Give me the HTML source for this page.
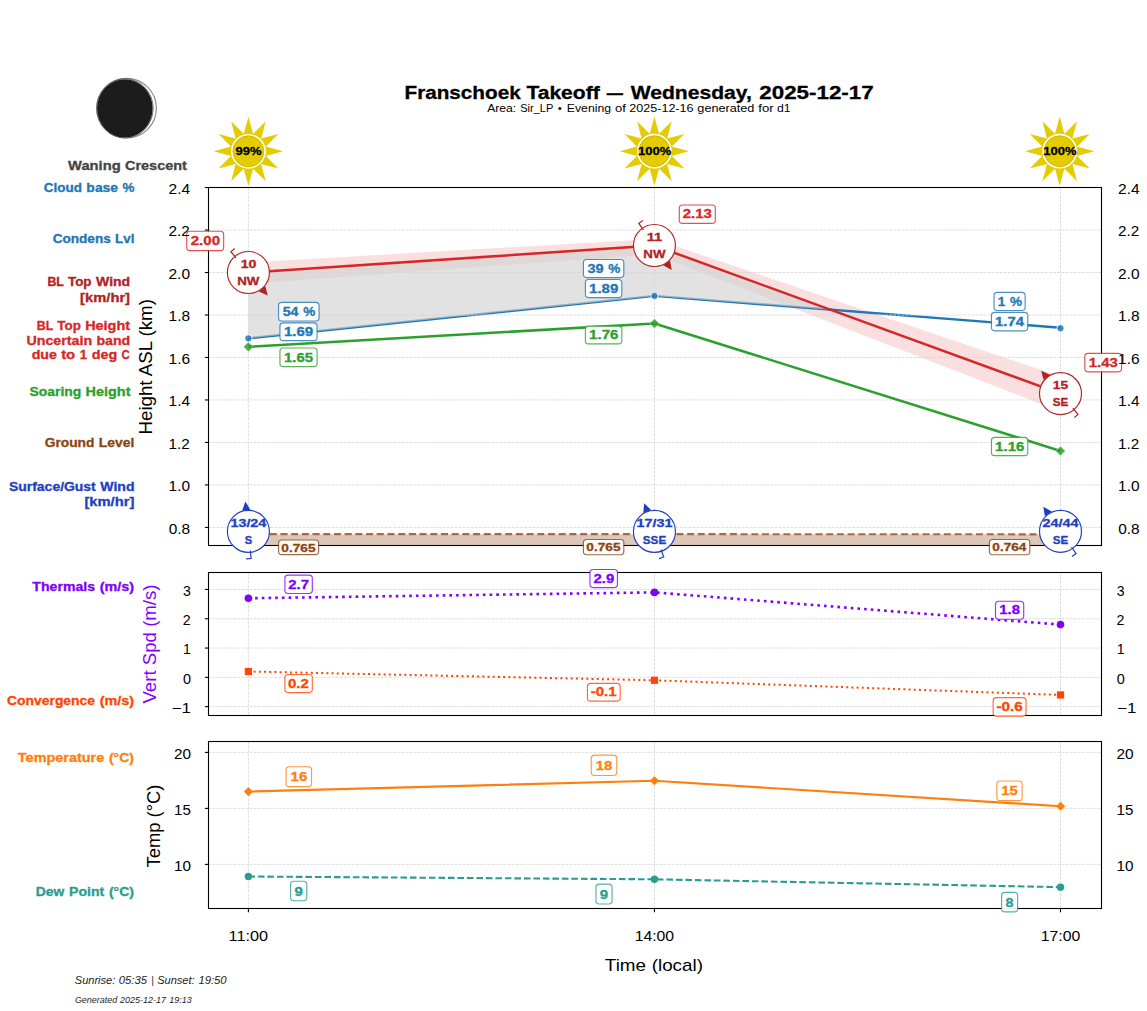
<!DOCTYPE html><html><head><meta charset="utf-8"><style>html,body{margin:0;padding:0;background:#fff;overflow:hidden}svg{display:block}text{font-family:"Liberation Sans",sans-serif}</style></head><body>
<svg width="1147" height="1011" viewBox="0 0 1147 1011">
<rect width="1147" height="1011" fill="#fff"/>
<text x="404.51" y="98.70" font-size="18.06" fill="#000" font-weight="bold" font-style="normal" text-anchor="start" textLength="116.17" lengthAdjust="spacingAndGlyphs" stroke="#000" stroke-width="0.3">Franschoek</text>
<text x="526.42" y="98.70" font-size="18.06" fill="#000" font-weight="bold" font-style="normal" text-anchor="start" textLength="73.29" lengthAdjust="spacingAndGlyphs" stroke="#000" stroke-width="0.3">Takeoff</text>
<text x="606.82" y="98.70" font-size="18.06" fill="#000" font-weight="bold" font-style="normal" text-anchor="start" textLength="16.25" lengthAdjust="spacingAndGlyphs" stroke="#000" stroke-width="0.3">—</text>
<text x="630.71" y="98.70" font-size="18.06" fill="#000" font-weight="bold" font-style="normal" text-anchor="start" textLength="121.15" lengthAdjust="spacingAndGlyphs" stroke="#000" stroke-width="0.3">Wednesday,</text>
<text x="759.33" y="98.70" font-size="18.06" fill="#000" font-weight="bold" font-style="normal" text-anchor="start" textLength="114.36" lengthAdjust="spacingAndGlyphs" stroke="#000" stroke-width="0.3">2025-12-17</text>
<text x="487.17" y="111.80" font-size="11.33" fill="#000" font-weight="normal" font-style="normal" text-anchor="start" textLength="29.10" lengthAdjust="spacingAndGlyphs">Area:</text>
<text x="520.18" y="111.80" font-size="11.33" fill="#000" font-weight="normal" font-style="normal" text-anchor="start" textLength="33.12" lengthAdjust="spacingAndGlyphs">Sir_LP</text>
<text x="557.84" y="111.80" font-size="11.33" fill="#000" font-weight="normal" font-style="normal" text-anchor="start" textLength="4.10" lengthAdjust="spacingAndGlyphs">•</text>
<text x="566.80" y="111.80" font-size="11.33" fill="#000" font-weight="normal" font-style="normal" text-anchor="start" textLength="44.31" lengthAdjust="spacingAndGlyphs">Evening</text>
<text x="615.00" y="111.80" font-size="11.33" fill="#000" font-weight="normal" font-style="normal" text-anchor="start" textLength="10.84" lengthAdjust="spacingAndGlyphs">of</text>
<text x="629.29" y="111.80" font-size="11.33" fill="#000" font-weight="normal" font-style="normal" text-anchor="start" textLength="64.24" lengthAdjust="spacingAndGlyphs">2025-12-16</text>
<text x="697.35" y="111.80" font-size="11.33" fill="#000" font-weight="normal" font-style="normal" text-anchor="start" textLength="57.03" lengthAdjust="spacingAndGlyphs">generated</text>
<text x="758.25" y="111.80" font-size="11.33" fill="#000" font-weight="normal" font-style="normal" text-anchor="start" textLength="15.40" lengthAdjust="spacingAndGlyphs">for</text>
<text x="777.09" y="111.80" font-size="11.33" fill="#000" font-weight="normal" font-style="normal" text-anchor="start" textLength="13.56" lengthAdjust="spacingAndGlyphs">d1</text>
<circle cx="126.6" cy="108.2" r="29.8" fill="#fff" stroke="#888" stroke-width="1.1"/>
<ellipse cx="124.9" cy="108.4" rx="27.8" ry="29.2" fill="#1c1c1c"/>
<ellipse cx="124.9" cy="108.4" rx="28.3" ry="29.6" fill="none" stroke="#555" stroke-width="0.8"/>
<text x="68.12" y="169.80" font-size="12.50" fill="#444" font-weight="bold" font-style="normal" text-anchor="start" textLength="52.50" lengthAdjust="spacingAndGlyphs" stroke="#444" stroke-width="0.3">Waning</text>
<text x="124.95" y="169.80" font-size="12.50" fill="#444" font-weight="bold" font-style="normal" text-anchor="start" textLength="61.97" lengthAdjust="spacingAndGlyphs" stroke="#444" stroke-width="0.3">Crescent</text>
<polygon points="248.40,116.70 253.60,135.80 243.20,135.80" fill="#e4cc00" stroke="none" stroke-width="0"/>
<polygon points="265.70,121.34 260.65,140.48 251.65,135.28" fill="#e4cc00" stroke="none" stroke-width="0"/>
<polygon points="278.36,134.00 264.42,148.05 259.22,139.05" fill="#e4cc00" stroke="none" stroke-width="0"/>
<polygon points="283.00,151.30 263.90,156.50 263.90,146.10" fill="#e4cc00" stroke="none" stroke-width="0"/>
<polygon points="278.36,168.60 259.22,163.55 264.42,154.55" fill="#e4cc00" stroke="none" stroke-width="0"/>
<polygon points="265.70,181.26 251.65,167.32 260.65,162.12" fill="#e4cc00" stroke="none" stroke-width="0"/>
<polygon points="248.40,185.90 243.20,166.80 253.60,166.80" fill="#e4cc00" stroke="none" stroke-width="0"/>
<polygon points="231.10,181.26 236.15,162.12 245.15,167.32" fill="#e4cc00" stroke="none" stroke-width="0"/>
<polygon points="218.44,168.60 232.38,154.55 237.58,163.55" fill="#e4cc00" stroke="none" stroke-width="0"/>
<polygon points="213.80,151.30 232.90,146.10 232.90,156.50" fill="#e4cc00" stroke="none" stroke-width="0"/>
<polygon points="218.44,134.00 237.58,139.05 232.38,148.05" fill="#e4cc00" stroke="none" stroke-width="0"/>
<polygon points="231.10,121.34 245.15,135.28 236.15,140.48" fill="#e4cc00" stroke="none" stroke-width="0"/>
<circle cx="248.4" cy="151.3" r="16.6" fill="#e4cc00" stroke="#fff" stroke-width="1.6"/>
<circle cx="248.4" cy="151.3" r="15.3" fill="none" stroke="#d2b800" stroke-width="0.9"/>
<text x="235.51" y="155.40" font-size="11.11" fill="#000" font-weight="bold" font-style="normal" text-anchor="start" textLength="25.97" lengthAdjust="spacingAndGlyphs" stroke="#000" stroke-width="0.3">99%</text>
<polygon points="654.40,116.60 659.60,135.70 649.20,135.70" fill="#e4cc00" stroke="none" stroke-width="0"/>
<polygon points="671.70,121.24 666.65,140.38 657.65,135.18" fill="#e4cc00" stroke="none" stroke-width="0"/>
<polygon points="684.36,133.90 670.42,147.95 665.22,138.95" fill="#e4cc00" stroke="none" stroke-width="0"/>
<polygon points="689.00,151.20 669.90,156.40 669.90,146.00" fill="#e4cc00" stroke="none" stroke-width="0"/>
<polygon points="684.36,168.50 665.22,163.45 670.42,154.45" fill="#e4cc00" stroke="none" stroke-width="0"/>
<polygon points="671.70,181.16 657.65,167.22 666.65,162.02" fill="#e4cc00" stroke="none" stroke-width="0"/>
<polygon points="654.40,185.80 649.20,166.70 659.60,166.70" fill="#e4cc00" stroke="none" stroke-width="0"/>
<polygon points="637.10,181.16 642.15,162.02 651.15,167.22" fill="#e4cc00" stroke="none" stroke-width="0"/>
<polygon points="624.44,168.50 638.38,154.45 643.58,163.45" fill="#e4cc00" stroke="none" stroke-width="0"/>
<polygon points="619.80,151.20 638.90,146.00 638.90,156.40" fill="#e4cc00" stroke="none" stroke-width="0"/>
<polygon points="624.44,133.90 643.58,138.95 638.38,147.95" fill="#e4cc00" stroke="none" stroke-width="0"/>
<polygon points="637.10,121.24 651.15,135.18 642.15,140.38" fill="#e4cc00" stroke="none" stroke-width="0"/>
<circle cx="654.4" cy="151.2" r="16.6" fill="#e4cc00" stroke="#fff" stroke-width="1.6"/>
<circle cx="654.4" cy="151.2" r="15.3" fill="none" stroke="#d2b800" stroke-width="0.9"/>
<text x="637.98" y="155.30" font-size="11.11" fill="#000" font-weight="bold" font-style="normal" text-anchor="start" textLength="33.23" lengthAdjust="spacingAndGlyphs" stroke="#000" stroke-width="0.3">100%</text>
<polygon points="1059.70,116.60 1064.90,135.70 1054.50,135.70" fill="#e4cc00" stroke="none" stroke-width="0"/>
<polygon points="1077.00,121.24 1071.95,140.38 1062.95,135.18" fill="#e4cc00" stroke="none" stroke-width="0"/>
<polygon points="1089.66,133.90 1075.72,147.95 1070.52,138.95" fill="#e4cc00" stroke="none" stroke-width="0"/>
<polygon points="1094.30,151.20 1075.20,156.40 1075.20,146.00" fill="#e4cc00" stroke="none" stroke-width="0"/>
<polygon points="1089.66,168.50 1070.52,163.45 1075.72,154.45" fill="#e4cc00" stroke="none" stroke-width="0"/>
<polygon points="1077.00,181.16 1062.95,167.22 1071.95,162.02" fill="#e4cc00" stroke="none" stroke-width="0"/>
<polygon points="1059.70,185.80 1054.50,166.70 1064.90,166.70" fill="#e4cc00" stroke="none" stroke-width="0"/>
<polygon points="1042.40,181.16 1047.45,162.02 1056.45,167.22" fill="#e4cc00" stroke="none" stroke-width="0"/>
<polygon points="1029.74,168.50 1043.68,154.45 1048.88,163.45" fill="#e4cc00" stroke="none" stroke-width="0"/>
<polygon points="1025.10,151.20 1044.20,146.00 1044.20,156.40" fill="#e4cc00" stroke="none" stroke-width="0"/>
<polygon points="1029.74,133.90 1048.88,138.95 1043.68,147.95" fill="#e4cc00" stroke="none" stroke-width="0"/>
<polygon points="1042.40,121.24 1056.45,135.18 1047.45,140.38" fill="#e4cc00" stroke="none" stroke-width="0"/>
<circle cx="1059.7" cy="151.2" r="16.6" fill="#e4cc00" stroke="#fff" stroke-width="1.6"/>
<circle cx="1059.7" cy="151.2" r="15.3" fill="none" stroke="#d2b800" stroke-width="0.9"/>
<text x="1043.28" y="155.30" font-size="11.11" fill="#000" font-weight="bold" font-style="normal" text-anchor="start" textLength="33.23" lengthAdjust="spacingAndGlyphs" stroke="#000" stroke-width="0.3">100%</text>
<text x="43.85" y="192.20" font-size="12.00" fill="#1f77b4" font-weight="bold" font-style="normal" text-anchor="start" textLength="38.23" lengthAdjust="spacingAndGlyphs" stroke="#1f77b4" stroke-width="0.3">Cloud</text>
<text x="86.38" y="192.20" font-size="12.00" fill="#1f77b4" font-weight="bold" font-style="normal" text-anchor="start" textLength="31.73" lengthAdjust="spacingAndGlyphs" stroke="#1f77b4" stroke-width="0.3">base</text>
<text x="122.57" y="192.20" font-size="12.00" fill="#1f77b4" font-weight="bold" font-style="normal" text-anchor="start" textLength="11.93" lengthAdjust="spacingAndGlyphs" stroke="#1f77b4" stroke-width="0.3">%</text>
<text x="52.73" y="242.60" font-size="12.00" fill="#1f77b4" font-weight="bold" font-style="normal" text-anchor="start" textLength="58.00" lengthAdjust="spacingAndGlyphs" stroke="#1f77b4" stroke-width="0.3">Condens</text>
<text x="115.13" y="242.60" font-size="12.00" fill="#1f77b4" font-weight="bold" font-style="normal" text-anchor="start" textLength="19.32" lengthAdjust="spacingAndGlyphs" stroke="#1f77b4" stroke-width="0.3">Lvl</text>
<text x="47.42" y="286.20" font-size="12.00" fill="#b22222" font-weight="bold" font-style="normal" text-anchor="start" textLength="16.51" lengthAdjust="spacingAndGlyphs" stroke="#b22222" stroke-width="0.3">BL</text>
<text x="67.98" y="286.20" font-size="12.00" fill="#b22222" font-weight="bold" font-style="normal" text-anchor="start" textLength="23.57" lengthAdjust="spacingAndGlyphs" stroke="#b22222" stroke-width="0.3">Top</text>
<text x="96.02" y="286.20" font-size="12.00" fill="#b22222" font-weight="bold" font-style="normal" text-anchor="start" textLength="34.15" lengthAdjust="spacingAndGlyphs" stroke="#b22222" stroke-width="0.3">Wind</text>
<text x="80.11" y="302.00" font-size="12.00" fill="#b22222" font-weight="bold" font-style="normal" text-anchor="start" textLength="49.91" lengthAdjust="spacingAndGlyphs" stroke="#b22222" stroke-width="0.3">[km/hr]</text>
<text x="36.74" y="329.70" font-size="12.00" fill="#d62728" font-weight="bold" font-style="normal" text-anchor="start" textLength="16.51" lengthAdjust="spacingAndGlyphs" stroke="#d62728" stroke-width="0.3">BL</text>
<text x="57.30" y="329.70" font-size="12.00" fill="#d62728" font-weight="bold" font-style="normal" text-anchor="start" textLength="23.57" lengthAdjust="spacingAndGlyphs" stroke="#d62728" stroke-width="0.3">Top</text>
<text x="85.18" y="329.70" font-size="12.00" fill="#d62728" font-weight="bold" font-style="normal" text-anchor="start" textLength="44.88" lengthAdjust="spacingAndGlyphs" stroke="#d62728" stroke-width="0.3">Height</text>
<text x="26.48" y="344.50" font-size="12.00" fill="#d62728" font-weight="bold" font-style="normal" text-anchor="start" textLength="65.70" lengthAdjust="spacingAndGlyphs" stroke="#d62728" stroke-width="0.3">Uncertain</text>
<text x="96.42" y="344.50" font-size="12.00" fill="#d62728" font-weight="bold" font-style="normal" text-anchor="start" textLength="33.74" lengthAdjust="spacingAndGlyphs" stroke="#d62728" stroke-width="0.3">band</text>
<text x="31.67" y="359.40" font-size="12.00" fill="#d62728" font-weight="bold" font-style="normal" text-anchor="start" textLength="25.28" lengthAdjust="spacingAndGlyphs" stroke="#d62728" stroke-width="0.3">due</text>
<text x="61.18" y="359.40" font-size="12.00" fill="#d62728" font-weight="bold" font-style="normal" text-anchor="start" textLength="14.03" lengthAdjust="spacingAndGlyphs" stroke="#d62728" stroke-width="0.3">to</text>
<text x="79.89" y="359.40" font-size="12.00" fill="#d62728" font-weight="bold" font-style="normal" text-anchor="start" textLength="7.38" lengthAdjust="spacingAndGlyphs" stroke="#d62728" stroke-width="0.3">1</text>
<text x="91.80" y="359.40" font-size="12.00" fill="#d62728" font-weight="bold" font-style="normal" text-anchor="start" textLength="25.42" lengthAdjust="spacingAndGlyphs" stroke="#d62728" stroke-width="0.3">deg</text>
<text x="121.48" y="359.40" font-size="12.00" fill="#d62728" font-weight="bold" font-style="normal" text-anchor="start" textLength="8.27" lengthAdjust="spacingAndGlyphs" stroke="#d62728" stroke-width="0.3">C</text>
<text x="29.60" y="396.20" font-size="12.00" fill="#2ca02c" font-weight="bold" font-style="normal" text-anchor="start" textLength="51.63" lengthAdjust="spacingAndGlyphs" stroke="#2ca02c" stroke-width="0.3">Soaring</text>
<text x="85.58" y="396.20" font-size="12.00" fill="#2ca02c" font-weight="bold" font-style="normal" text-anchor="start" textLength="44.88" lengthAdjust="spacingAndGlyphs" stroke="#2ca02c" stroke-width="0.3">Height</text>
<text x="44.76" y="446.60" font-size="12.00" fill="#8b4513" font-weight="bold" font-style="normal" text-anchor="start" textLength="49.63" lengthAdjust="spacingAndGlyphs" stroke="#8b4513" stroke-width="0.3">Ground</text>
<text x="98.82" y="446.60" font-size="12.00" fill="#8b4513" font-weight="bold" font-style="normal" text-anchor="start" textLength="35.62" lengthAdjust="spacingAndGlyphs" stroke="#8b4513" stroke-width="0.3">Level</text>
<text x="9.00" y="491.10" font-size="12.00" fill="#1f3fbf" font-weight="bold" font-style="normal" text-anchor="start" textLength="86.76" lengthAdjust="spacingAndGlyphs" stroke="#1f3fbf" stroke-width="0.3">Surface/Gust</text>
<text x="100.32" y="491.10" font-size="12.00" fill="#1f3fbf" font-weight="bold" font-style="normal" text-anchor="start" textLength="34.15" lengthAdjust="spacingAndGlyphs" stroke="#1f3fbf" stroke-width="0.3">Wind</text>
<text x="84.41" y="505.90" font-size="12.00" fill="#1f3fbf" font-weight="bold" font-style="normal" text-anchor="start" textLength="49.91" lengthAdjust="spacingAndGlyphs" stroke="#1f3fbf" stroke-width="0.3">[km/hr]</text>
<text x="32.34" y="591.10" font-size="12.00" fill="#8000ff" font-weight="bold" font-style="normal" text-anchor="start" textLength="62.75" lengthAdjust="spacingAndGlyphs" stroke="#8000ff" stroke-width="0.3">Thermals</text>
<text x="99.67" y="591.10" font-size="12.00" fill="#8000ff" font-weight="bold" font-style="normal" text-anchor="start" textLength="34.35" lengthAdjust="spacingAndGlyphs" stroke="#8000ff" stroke-width="0.3">(m/s)</text>
<text x="7.11" y="705.00" font-size="12.00" fill="#ff4500" font-weight="bold" font-style="normal" text-anchor="start" textLength="87.86" lengthAdjust="spacingAndGlyphs" stroke="#ff4500" stroke-width="0.3">Convergence</text>
<text x="99.67" y="705.00" font-size="12.00" fill="#ff4500" font-weight="bold" font-style="normal" text-anchor="start" textLength="34.35" lengthAdjust="spacingAndGlyphs" stroke="#ff4500" stroke-width="0.3">(m/s)</text>
<text x="17.89" y="762.00" font-size="12.00" fill="#ff7f0e" font-weight="bold" font-style="normal" text-anchor="start" textLength="86.37" lengthAdjust="spacingAndGlyphs" stroke="#ff7f0e" stroke-width="0.3">Temperature</text>
<text x="108.91" y="762.00" font-size="12.00" fill="#ff7f0e" font-weight="bold" font-style="normal" text-anchor="start" textLength="25.07" lengthAdjust="spacingAndGlyphs" stroke="#ff7f0e" stroke-width="0.3">(°C)</text>
<text x="35.73" y="896.00" font-size="12.00" fill="#2a9d8f" font-weight="bold" font-style="normal" text-anchor="start" textLength="28.57" lengthAdjust="spacingAndGlyphs" stroke="#2a9d8f" stroke-width="0.3">Dew</text>
<text x="69.08" y="896.00" font-size="12.00" fill="#2a9d8f" font-weight="bold" font-style="normal" text-anchor="start" textLength="35.19" lengthAdjust="spacingAndGlyphs" stroke="#2a9d8f" stroke-width="0.3">Point</text>
<text x="108.91" y="896.00" font-size="12.00" fill="#2a9d8f" font-weight="bold" font-style="normal" text-anchor="start" textLength="25.07" lengthAdjust="spacingAndGlyphs" stroke="#2a9d8f" stroke-width="0.3">(°C)</text>
<text transform="translate(146.30,366.80) rotate(-90)" x="0" y="6.00" font-size="17.67" fill="#000" font-weight="normal" text-anchor="middle" textLength="135.45" lengthAdjust="spacingAndGlyphs">Height ASL (km)</text>
<text transform="translate(149.60,644.00) rotate(-90)" x="0" y="6.00" font-size="17.67" fill="#8000ff" font-weight="normal" text-anchor="middle" textLength="119.15" lengthAdjust="spacingAndGlyphs">Vert Spd (m/s)</text>
<text transform="translate(153.80,826.00) rotate(-90)" x="0" y="6.00" font-size="17.67" fill="#000" font-weight="normal" text-anchor="middle" textLength="82.75" lengthAdjust="spacingAndGlyphs">Temp (°C)</text>
<line x1="208.5" y1="706.65" x2="1101.5" y2="706.65" stroke="#d4d4d4" stroke-width="0.8" stroke-dasharray="2.9 1.2"/>
<line x1="208.5" y1="677.35" x2="1101.5" y2="677.35" stroke="#d4d4d4" stroke-width="0.8" stroke-dasharray="2.9 1.2"/>
<line x1="208.5" y1="648.05" x2="1101.5" y2="648.05" stroke="#d4d4d4" stroke-width="0.8" stroke-dasharray="2.9 1.2"/>
<line x1="208.5" y1="618.75" x2="1101.5" y2="618.75" stroke="#d4d4d4" stroke-width="0.8" stroke-dasharray="2.9 1.2"/>
<line x1="208.5" y1="589.45" x2="1101.5" y2="589.45" stroke="#d4d4d4" stroke-width="0.8" stroke-dasharray="2.9 1.2"/>
<line x1="248.4" y1="572.5" x2="248.4" y2="715.5" stroke="#d4d4d4" stroke-width="0.8" stroke-dasharray="2.9 1.2"/>
<line x1="654.45" y1="572.5" x2="654.45" y2="715.5" stroke="#d4d4d4" stroke-width="0.8" stroke-dasharray="2.9 1.2"/>
<line x1="1060.5" y1="572.5" x2="1060.5" y2="715.5" stroke="#d4d4d4" stroke-width="0.8" stroke-dasharray="2.9 1.2"/>
<line x1="208.5" y1="864.40" x2="1101.5" y2="864.40" stroke="#d4d4d4" stroke-width="0.8" stroke-dasharray="2.9 1.2"/>
<line x1="208.5" y1="808.40" x2="1101.5" y2="808.40" stroke="#d4d4d4" stroke-width="0.8" stroke-dasharray="2.9 1.2"/>
<line x1="208.5" y1="752.40" x2="1101.5" y2="752.40" stroke="#d4d4d4" stroke-width="0.8" stroke-dasharray="2.9 1.2"/>
<line x1="248.4" y1="741.5" x2="248.4" y2="908.5" stroke="#d4d4d4" stroke-width="0.8" stroke-dasharray="2.9 1.2"/>
<line x1="654.45" y1="741.5" x2="654.45" y2="908.5" stroke="#d4d4d4" stroke-width="0.8" stroke-dasharray="2.9 1.2"/>
<line x1="1060.5" y1="741.5" x2="1060.5" y2="908.5" stroke="#d4d4d4" stroke-width="0.8" stroke-dasharray="2.9 1.2"/>
<polygon points="248.40,262.52 654.45,238.95 1060.50,376.59 1060.50,411.59 654.45,254.25 248.40,284.02" fill="#d62728" fill-opacity="0.15" stroke="none" stroke-width="0"/>
<polyline points="248.40,338.36 654.45,295.88 1060.50,327.74" fill="none" stroke="#1f77b4" stroke-width="2.4" stroke-linecap="butt" stroke-linejoin="round"/>
<polygon points="248.40,272.52 654.45,245.55 830.38,309.69 654.45,295.88 248.40,338.36" fill="#d3d3d3" fill-opacity="0.65" stroke="none" stroke-width="0"/>
<polygon points="248.40,534.13 654.45,534.13 1060.50,534.35 1060.50,545.50 248.40,545.50" fill="#8b4513" fill-opacity="0.3" stroke="none" stroke-width="0"/>
<line x1="208.5" y1="527.40" x2="1101.5" y2="527.40" stroke="#d4d4d4" stroke-width="0.8" stroke-dasharray="2.9 1.2"/>
<line x1="208.5" y1="484.92" x2="1101.5" y2="484.92" stroke="#d4d4d4" stroke-width="0.8" stroke-dasharray="2.9 1.2"/>
<line x1="208.5" y1="442.44" x2="1101.5" y2="442.44" stroke="#d4d4d4" stroke-width="0.8" stroke-dasharray="2.9 1.2"/>
<line x1="208.5" y1="399.96" x2="1101.5" y2="399.96" stroke="#d4d4d4" stroke-width="0.8" stroke-dasharray="2.9 1.2"/>
<line x1="208.5" y1="357.48" x2="1101.5" y2="357.48" stroke="#d4d4d4" stroke-width="0.8" stroke-dasharray="2.9 1.2"/>
<line x1="208.5" y1="315.00" x2="1101.5" y2="315.00" stroke="#d4d4d4" stroke-width="0.8" stroke-dasharray="2.9 1.2"/>
<line x1="208.5" y1="272.52" x2="1101.5" y2="272.52" stroke="#d4d4d4" stroke-width="0.8" stroke-dasharray="2.9 1.2"/>
<line x1="208.5" y1="230.04" x2="1101.5" y2="230.04" stroke="#d4d4d4" stroke-width="0.8" stroke-dasharray="2.9 1.2"/>
<line x1="208.5" y1="187.56" x2="1101.5" y2="187.56" stroke="#d4d4d4" stroke-width="0.8" stroke-dasharray="2.9 1.2"/>
<line x1="248.4" y1="187.5" x2="248.4" y2="545.5" stroke="#d4d4d4" stroke-width="0.8" stroke-dasharray="2.9 1.2"/>
<line x1="654.45" y1="187.5" x2="654.45" y2="545.5" stroke="#d4d4d4" stroke-width="0.8" stroke-dasharray="2.9 1.2"/>
<line x1="1060.5" y1="187.5" x2="1060.5" y2="545.5" stroke="#d4d4d4" stroke-width="0.8" stroke-dasharray="2.9 1.2"/>
<circle cx="248.4" cy="338.36" r="3.6" fill="#1f77b4" fill-opacity="0.85" stroke="#fff" stroke-opacity="0.85" stroke-width="1.0"/>
<circle cx="654.45" cy="295.88" r="3.6" fill="#1f77b4" fill-opacity="0.85" stroke="#fff" stroke-opacity="0.85" stroke-width="1.0"/>
<circle cx="1060.5" cy="328.24" r="3.6" fill="#1f77b4" fill-opacity="0.85" stroke="#fff" stroke-opacity="0.85" stroke-width="1.0"/>
<polyline points="248.40,534.13 654.45,534.13 1060.50,534.35" fill="none" stroke="#a56a45" stroke-width="2.1" stroke-linecap="butt" stroke-linejoin="round" stroke-dasharray="7 3.7"/>
<polyline points="248.40,346.86 654.45,323.50 1060.50,450.94" fill="none" stroke="#2ca02c" stroke-width="2.6" stroke-linecap="butt" stroke-linejoin="round"/>
<polygon points="248.4,342.06 253.20000000000002,346.86 248.4,351.66 243.6,346.86" fill="#2ca02c" fill-opacity="0.85" stroke="#fff" stroke-opacity="0.6" stroke-width="0.6"/>
<polygon points="654.45,318.69599999999997 659.25,323.496 654.45,328.296 649.6500000000001,323.496" fill="#2ca02c" fill-opacity="0.85" stroke="#fff" stroke-opacity="0.6" stroke-width="0.6"/>
<polygon points="1060.5,446.136 1065.3,450.93600000000004 1060.5,455.73600000000005 1055.7,450.93600000000004" fill="#2ca02c" fill-opacity="0.85" stroke="#fff" stroke-opacity="0.6" stroke-width="0.6"/>
<polyline points="248.40,272.52 654.45,245.55 1060.50,393.59" fill="none" stroke="#d62728" stroke-width="2.5" stroke-linecap="butt" stroke-linejoin="round"/>
<rect x="208.5" y="187.5" width="893.0" height="358.0" fill="none" stroke="#000" stroke-width="1.1"/>
<circle cx="248.4" cy="272.52" r="21.0" fill="#fff" stroke="#b22222" stroke-width="1.15"/>
<polyline points="236.03,257.84 230.87,251.72 234.69,248.50" fill="none" stroke="#b22222" stroke-width="1.2"/>
<polygon points="267.73,295.46 265.27,286.02 258.85,291.44" fill="#b22222" stroke="none" stroke-width="0"/>
<text x="240.69" y="268.05" font-size="11.20" fill="#b22222" font-weight="bold" font-style="normal" text-anchor="start" textLength="15.84" lengthAdjust="spacingAndGlyphs" stroke="#b22222" stroke-width="0.3">10</text>
<text x="237.24" y="284.85" font-size="11.20" fill="#b22222" font-weight="bold" font-style="normal" text-anchor="start" textLength="22.17" lengthAdjust="spacingAndGlyphs" stroke="#b22222" stroke-width="0.3">NW</text>
<circle cx="654.45" cy="245.54520000000002" r="21.0" fill="#fff" stroke="#b22222" stroke-width="1.15"/>
<polyline points="643.40,229.84 638.80,223.30 642.89,220.42" fill="none" stroke="#b22222" stroke-width="1.2"/>
<polygon points="671.71,270.08 670.09,260.47 663.22,265.30" fill="#b22222" stroke="none" stroke-width="0"/>
<text x="646.72" y="241.08" font-size="11.20" fill="#b22222" font-weight="bold" font-style="normal" text-anchor="start" textLength="15.49" lengthAdjust="spacingAndGlyphs" stroke="#b22222" stroke-width="0.3">11</text>
<text x="643.29" y="257.88" font-size="11.20" fill="#b22222" font-weight="bold" font-style="normal" text-anchor="start" textLength="22.17" lengthAdjust="spacingAndGlyphs" stroke="#b22222" stroke-width="0.3">NW</text>
<circle cx="1060.5" cy="393.58799999999997" r="21.0" fill="#fff" stroke="#b22222" stroke-width="1.15"/>
<polyline points="1072.88,408.26 1078.04,414.38 1074.22,417.60" fill="none" stroke="#b22222" stroke-width="1.2"/>
<polygon points="1041.15,370.66 1043.62,380.09 1050.04,374.68" fill="#b22222" stroke="none" stroke-width="0"/>
<text x="1052.81" y="389.12" font-size="11.20" fill="#b22222" font-weight="bold" font-style="normal" text-anchor="start" textLength="15.43" lengthAdjust="spacingAndGlyphs" stroke="#b22222" stroke-width="0.3">15</text>
<text x="1052.82" y="405.92" font-size="11.20" fill="#b22222" font-weight="bold" font-style="normal" text-anchor="start" textLength="15.49" lengthAdjust="spacingAndGlyphs" stroke="#b22222" stroke-width="0.3">SE</text>
<circle cx="248.4" cy="531.4" r="21.0" fill="#fff" stroke="#1f3fbf" stroke-width="1.15"/>
<polyline points="250.31,550.50 251.11,558.47 246.13,558.96" fill="none" stroke="#1f3fbf" stroke-width="1.2"/>
<polygon points="245.41,501.55 242.11,510.72 250.47,509.89" fill="#1f3fbf" stroke="none" stroke-width="0"/>
<text x="230.41" y="526.93" font-size="11.20" fill="#1f3fbf" font-weight="bold" font-style="normal" text-anchor="start" textLength="35.94" lengthAdjust="spacingAndGlyphs" stroke="#1f3fbf" stroke-width="0.3">13/24</text>
<text x="244.73" y="543.73" font-size="11.20" fill="#1f3fbf" font-weight="bold" font-style="normal" text-anchor="start" textLength="7.48" lengthAdjust="spacingAndGlyphs" stroke="#1f3fbf" stroke-width="0.3">S</text>
<circle cx="654.45" cy="531.4" r="21.0" fill="#fff" stroke="#1f3fbf" stroke-width="1.15"/>
<polyline points="661.00,549.45 663.73,556.97 659.03,558.67" fill="none" stroke="#1f3fbf" stroke-width="1.2"/>
<polygon points="644.21,503.20 643.27,512.91 651.16,510.04" fill="#1f3fbf" stroke="none" stroke-width="0"/>
<text x="636.45" y="526.93" font-size="11.20" fill="#1f3fbf" font-weight="bold" font-style="normal" text-anchor="start" textLength="36.07" lengthAdjust="spacingAndGlyphs" stroke="#1f3fbf" stroke-width="0.3">17/31</text>
<text x="642.82" y="543.73" font-size="11.20" fill="#1f3fbf" font-weight="bold" font-style="normal" text-anchor="start" textLength="23.35" lengthAdjust="spacingAndGlyphs" stroke="#1f3fbf" stroke-width="0.3">SSE</text>
<circle cx="1060.5" cy="531.3" r="21.0" fill="#fff" stroke="#1f3fbf" stroke-width="1.15"/>
<polyline points="1071.52,547.02 1076.12,553.57 1072.02,556.44" fill="none" stroke="#1f3fbf" stroke-width="1.2"/>
<polygon points="1043.28,506.74 1044.89,516.35 1051.77,511.53" fill="#1f3fbf" stroke="none" stroke-width="0"/>
<text x="1042.53" y="526.83" font-size="11.20" fill="#1f3fbf" font-weight="bold" font-style="normal" text-anchor="start" textLength="35.92" lengthAdjust="spacingAndGlyphs" stroke="#1f3fbf" stroke-width="0.3">24/44</text>
<text x="1052.82" y="543.63" font-size="11.20" fill="#1f3fbf" font-weight="bold" font-style="normal" text-anchor="start" textLength="15.49" lengthAdjust="spacingAndGlyphs" stroke="#1f3fbf" stroke-width="0.3">SE</text>
<rect x="186.75" y="231.20" width="36.90" height="19.40" rx="3.2" ry="3.2" fill="#fff" fill-opacity="0.93" stroke="#d62728" stroke-opacity="0.8" stroke-width="1.15"/>
<text x="190.73" y="245.14" font-size="12.10" fill="#d62728" font-weight="bold" font-style="normal" text-anchor="start" textLength="29.38" lengthAdjust="spacingAndGlyphs" stroke="#d62728" stroke-width="0.3">2.00</text>
<rect x="679.30" y="205.00" width="36.00" height="18.40" rx="3.2" ry="3.2" fill="#fff" fill-opacity="0.93" stroke="#d62728" stroke-opacity="0.8" stroke-width="1.15"/>
<text x="682.83" y="218.44" font-size="12.10" fill="#d62728" font-weight="bold" font-style="normal" text-anchor="start" textLength="29.00" lengthAdjust="spacingAndGlyphs" stroke="#d62728" stroke-width="0.3">2.13</text>
<rect x="1084.80" y="353.40" width="36.80" height="18.40" rx="3.2" ry="3.2" fill="#fff" fill-opacity="0.93" stroke="#d62728" stroke-opacity="0.8" stroke-width="1.15"/>
<text x="1088.71" y="366.84" font-size="12.10" fill="#d62728" font-weight="bold" font-style="normal" text-anchor="start" textLength="29.02" lengthAdjust="spacingAndGlyphs" stroke="#d62728" stroke-width="0.3">1.43</text>
<rect x="278.55" y="302.40" width="40.50" height="18.60" rx="3.2" ry="3.2" fill="#fff" fill-opacity="0.93" stroke="#1f77b4" stroke-opacity="0.8" stroke-width="1.15"/>
<text x="282.69" y="315.94" font-size="12.10" fill="#1f77b4" font-weight="bold" font-style="normal" text-anchor="start" textLength="15.83" lengthAdjust="spacingAndGlyphs" stroke="#1f77b4" stroke-width="0.3">54</text>
<text x="303.36" y="315.94" font-size="12.10" fill="#1f77b4" font-weight="bold" font-style="normal" text-anchor="start" textLength="12.03" lengthAdjust="spacingAndGlyphs" stroke="#1f77b4" stroke-width="0.3">%</text>
<rect x="279.95" y="322.80" width="37.10" height="17.80" rx="3.2" ry="3.2" fill="#fff" fill-opacity="0.93" stroke="#1f77b4" stroke-opacity="0.8" stroke-width="1.15"/>
<text x="284.00" y="335.94" font-size="12.10" fill="#1f77b4" font-weight="bold" font-style="normal" text-anchor="start" textLength="29.22" lengthAdjust="spacingAndGlyphs" stroke="#1f77b4" stroke-width="0.3">1.69</text>
<rect x="279.95" y="348.00" width="37.10" height="18.60" rx="3.2" ry="3.2" fill="#fff" fill-opacity="0.93" stroke="#2ca02c" stroke-opacity="0.8" stroke-width="1.15"/>
<text x="284.01" y="361.54" font-size="12.10" fill="#2ca02c" font-weight="bold" font-style="normal" text-anchor="start" textLength="29.00" lengthAdjust="spacingAndGlyphs" stroke="#2ca02c" stroke-width="0.3">1.65</text>
<rect x="583.40" y="259.45" width="40.40" height="18.10" rx="3.2" ry="3.2" fill="#fff" fill-opacity="0.93" stroke="#1f77b4" stroke-opacity="0.8" stroke-width="1.15"/>
<text x="587.51" y="272.74" font-size="12.10" fill="#1f77b4" font-weight="bold" font-style="normal" text-anchor="start" textLength="16.14" lengthAdjust="spacingAndGlyphs" stroke="#1f77b4" stroke-width="0.3">39</text>
<text x="608.16" y="272.74" font-size="12.10" fill="#1f77b4" font-weight="bold" font-style="normal" text-anchor="start" textLength="12.03" lengthAdjust="spacingAndGlyphs" stroke="#1f77b4" stroke-width="0.3">%</text>
<rect x="585.40" y="279.45" width="36.40" height="18.10" rx="3.2" ry="3.2" fill="#fff" fill-opacity="0.93" stroke="#1f77b4" stroke-opacity="0.8" stroke-width="1.15"/>
<text x="589.10" y="292.74" font-size="12.10" fill="#1f77b4" font-weight="bold" font-style="normal" text-anchor="start" textLength="29.22" lengthAdjust="spacingAndGlyphs" stroke="#1f77b4" stroke-width="0.3">1.89</text>
<rect x="585.40" y="326.15" width="36.40" height="17.70" rx="3.2" ry="3.2" fill="#fff" fill-opacity="0.93" stroke="#2ca02c" stroke-opacity="0.8" stroke-width="1.15"/>
<text x="589.10" y="339.24" font-size="12.10" fill="#2ca02c" font-weight="bold" font-style="normal" text-anchor="start" textLength="29.34" lengthAdjust="spacingAndGlyphs" stroke="#2ca02c" stroke-width="0.3">1.76</text>
<rect x="994.05" y="292.35" width="31.10" height="18.10" rx="3.2" ry="3.2" fill="#fff" fill-opacity="0.93" stroke="#1f77b4" stroke-opacity="0.8" stroke-width="1.15"/>
<text x="997.75" y="305.64" font-size="12.10" fill="#1f77b4" font-weight="bold" font-style="normal" text-anchor="start" textLength="7.45" lengthAdjust="spacingAndGlyphs" stroke="#1f77b4" stroke-width="0.3">1</text>
<text x="1009.95" y="305.64" font-size="12.10" fill="#1f77b4" font-weight="bold" font-style="normal" text-anchor="start" textLength="12.03" lengthAdjust="spacingAndGlyphs" stroke="#1f77b4" stroke-width="0.3">%</text>
<rect x="991.45" y="312.40" width="36.30" height="18.40" rx="3.2" ry="3.2" fill="#fff" fill-opacity="0.93" stroke="#1f77b4" stroke-opacity="0.8" stroke-width="1.15"/>
<text x="995.11" y="325.84" font-size="12.10" fill="#1f77b4" font-weight="bold" font-style="normal" text-anchor="start" textLength="28.86" lengthAdjust="spacingAndGlyphs" stroke="#1f77b4" stroke-width="0.3">1.74</text>
<rect x="991.45" y="437.30" width="36.30" height="18.40" rx="3.2" ry="3.2" fill="#fff" fill-opacity="0.93" stroke="#2ca02c" stroke-opacity="0.8" stroke-width="1.15"/>
<text x="995.10" y="450.74" font-size="12.10" fill="#2ca02c" font-weight="bold" font-style="normal" text-anchor="start" textLength="29.34" lengthAdjust="spacingAndGlyphs" stroke="#2ca02c" stroke-width="0.3">1.16</text>
<rect x="278.60" y="540.00" width="40.00" height="14.60" rx="3.2" ry="3.2" fill="#fff" fill-opacity="0.93" stroke="#8b4513" stroke-opacity="0.8" stroke-width="1.15"/>
<text x="281.38" y="551.54" font-size="10.25" fill="#8b4513" font-weight="bold" font-style="normal" text-anchor="start" textLength="34.10" lengthAdjust="spacingAndGlyphs" stroke="#8b4513" stroke-width="0.3">0.765</text>
<rect x="583.40" y="539.50" width="40.40" height="15.20" rx="3.2" ry="3.2" fill="#fff" fill-opacity="0.93" stroke="#8b4513" stroke-opacity="0.8" stroke-width="1.15"/>
<text x="586.38" y="551.34" font-size="10.25" fill="#8b4513" font-weight="bold" font-style="normal" text-anchor="start" textLength="34.10" lengthAdjust="spacingAndGlyphs" stroke="#8b4513" stroke-width="0.3">0.765</text>
<rect x="989.40" y="539.50" width="40.40" height="15.20" rx="3.2" ry="3.2" fill="#fff" fill-opacity="0.93" stroke="#8b4513" stroke-opacity="0.8" stroke-width="1.15"/>
<text x="992.38" y="551.34" font-size="10.25" fill="#8b4513" font-weight="bold" font-style="normal" text-anchor="start" textLength="33.97" lengthAdjust="spacingAndGlyphs" stroke="#8b4513" stroke-width="0.3">0.764</text>
<polyline points="248.40,598.24 654.45,592.38 1060.50,624.61" fill="none" stroke="#8000ff" stroke-width="2.6" stroke-linecap="butt" stroke-linejoin="round" stroke-dasharray="2.6 4.1"/>
<circle cx="248.4" cy="598.24" r="3.8" fill="#8000ff"/>
<circle cx="654.45" cy="592.38" r="3.8" fill="#8000ff"/>
<circle cx="1060.5" cy="624.61" r="3.8" fill="#8000ff"/>
<polyline points="248.40,671.49 654.45,680.28 1060.50,694.93" fill="none" stroke="#ff4500" stroke-width="2.0" stroke-linecap="butt" stroke-linejoin="round" stroke-dasharray="2 3.2"/>
<rect x="244.8" y="667.89" width="7.2" height="7.2" fill="#ff4500"/>
<rect x="650.85" y="676.68" width="7.2" height="7.2" fill="#ff4500"/>
<rect x="1056.9" y="691.33" width="7.2" height="7.2" fill="#ff4500"/>
<rect x="208.5" y="572.5" width="893.0" height="143.0" fill="none" stroke="#000" stroke-width="1.1"/>
<rect x="284.90" y="575.10" width="27.40" height="18.40" rx="3.2" ry="3.2" fill="#fff" fill-opacity="0.93" stroke="#8000ff" stroke-opacity="0.8" stroke-width="1.15"/>
<text x="288.34" y="588.54" font-size="12.10" fill="#8000ff" font-weight="bold" font-style="normal" text-anchor="start" textLength="20.64" lengthAdjust="spacingAndGlyphs" stroke="#8000ff" stroke-width="0.3">2.7</text>
<rect x="589.95" y="569.45" width="27.50" height="18.10" rx="3.2" ry="3.2" fill="#fff" fill-opacity="0.93" stroke="#8000ff" stroke-opacity="0.8" stroke-width="1.15"/>
<text x="593.44" y="582.74" font-size="12.10" fill="#8000ff" font-weight="bold" font-style="normal" text-anchor="start" textLength="20.76" lengthAdjust="spacingAndGlyphs" stroke="#8000ff" stroke-width="0.3">2.9</text>
<rect x="995.50" y="601.20" width="28.20" height="18.00" rx="3.2" ry="3.2" fill="#fff" fill-opacity="0.93" stroke="#8000ff" stroke-opacity="0.8" stroke-width="1.15"/>
<text x="999.32" y="614.44" font-size="12.10" fill="#8000ff" font-weight="bold" font-style="normal" text-anchor="start" textLength="20.62" lengthAdjust="spacingAndGlyphs" stroke="#8000ff" stroke-width="0.3">1.8</text>
<rect x="284.90" y="674.45" width="27.40" height="18.10" rx="3.2" ry="3.2" fill="#fff" fill-opacity="0.93" stroke="#ff4500" stroke-opacity="0.8" stroke-width="1.15"/>
<text x="287.90" y="687.74" font-size="12.10" fill="#ff4500" font-weight="bold" font-style="normal" text-anchor="start" textLength="20.90" lengthAdjust="spacingAndGlyphs" stroke="#ff4500" stroke-width="0.3">0.2</text>
<rect x="587.45" y="683.30" width="32.70" height="17.80" rx="3.2" ry="3.2" fill="#fff" fill-opacity="0.93" stroke="#ff4500" stroke-opacity="0.8" stroke-width="1.15"/>
<text x="590.65" y="696.44" font-size="12.10" fill="#ff4500" font-weight="bold" font-style="normal" text-anchor="start" textLength="26.00" lengthAdjust="spacingAndGlyphs" stroke="#ff4500" stroke-width="0.3">-0.1</text>
<rect x="993.15" y="697.55" width="32.90" height="18.50" rx="3.2" ry="3.2" fill="#fff" fill-opacity="0.93" stroke="#ff4500" stroke-opacity="0.8" stroke-width="1.15"/>
<text x="996.44" y="711.04" font-size="12.10" fill="#ff4500" font-weight="bold" font-style="normal" text-anchor="start" textLength="26.35" lengthAdjust="spacingAndGlyphs" stroke="#ff4500" stroke-width="0.3">-0.6</text>
<polyline points="248.40,791.60 654.45,780.74 1060.50,806.27" fill="none" stroke="#ff7f0e" stroke-width="2.2" stroke-linecap="butt" stroke-linejoin="round"/>
<polygon points="248.40,787.00 253.00,791.60 248.40,796.20 243.80,791.60" fill="#ff7f0e" stroke="none" stroke-width="0"/>
<polygon points="654.45,776.14 659.05,780.74 654.45,785.34 649.85,780.74" fill="#ff7f0e" stroke="none" stroke-width="0"/>
<polygon points="1060.50,801.67 1065.10,806.27 1060.50,810.87 1055.90,806.27" fill="#ff7f0e" stroke="none" stroke-width="0"/>
<polyline points="248.40,876.50 654.45,879.30 1060.50,887.14" fill="none" stroke="#2a9d8f" stroke-width="2.1" stroke-linecap="butt" stroke-linejoin="round" stroke-dasharray="6.6 2.9"/>
<circle cx="248.4" cy="876.496" r="3.7" fill="#2a9d8f"/>
<circle cx="654.45" cy="879.2959999999999" r="3.7" fill="#2a9d8f"/>
<circle cx="1060.5" cy="887.136" r="3.7" fill="#2a9d8f"/>
<rect x="208.5" y="741.5" width="893.0" height="167.0" fill="none" stroke="#000" stroke-width="1.1"/>
<rect x="286.05" y="766.75" width="25.50" height="19.90" rx="3.2" ry="3.2" fill="#fff" fill-opacity="0.93" stroke="#ff7f0e" stroke-opacity="0.8" stroke-width="1.15"/>
<text x="290.57" y="781.27" font-size="13.00" fill="#ff7f0e" font-weight="bold" font-style="normal" text-anchor="start" textLength="16.85" lengthAdjust="spacingAndGlyphs" stroke="#ff7f0e" stroke-width="0.3">16</text>
<rect x="591.25" y="755.15" width="25.50" height="20.30" rx="3.2" ry="3.2" fill="#fff" fill-opacity="0.93" stroke="#ff7f0e" stroke-opacity="0.8" stroke-width="1.15"/>
<text x="595.79" y="769.87" font-size="13.00" fill="#ff7f0e" font-weight="bold" font-style="normal" text-anchor="start" textLength="16.55" lengthAdjust="spacingAndGlyphs" stroke="#ff7f0e" stroke-width="0.3">18</text>
<rect x="996.85" y="781.00" width="25.30" height="19.60" rx="3.2" ry="3.2" fill="#fff" fill-opacity="0.93" stroke="#ff7f0e" stroke-opacity="0.8" stroke-width="1.15"/>
<text x="1001.29" y="795.37" font-size="13.00" fill="#ff7f0e" font-weight="bold" font-style="normal" text-anchor="start" textLength="16.48" lengthAdjust="spacingAndGlyphs" stroke="#ff7f0e" stroke-width="0.3">15</text>
<rect x="290.60" y="881.25" width="16.20" height="19.50" rx="3.2" ry="3.2" fill="#fff" fill-opacity="0.93" stroke="#2a9d8f" stroke-opacity="0.8" stroke-width="1.15"/>
<text x="294.53" y="895.57" font-size="13.00" fill="#2a9d8f" font-weight="bold" font-style="normal" text-anchor="start" textLength="8.30" lengthAdjust="spacingAndGlyphs" stroke="#2a9d8f" stroke-width="0.3">9</text>
<rect x="595.95" y="884.05" width="16.10" height="19.90" rx="3.2" ry="3.2" fill="#fff" fill-opacity="0.93" stroke="#2a9d8f" stroke-opacity="0.8" stroke-width="1.15"/>
<text x="599.83" y="898.57" font-size="13.00" fill="#2a9d8f" font-weight="bold" font-style="normal" text-anchor="start" textLength="8.30" lengthAdjust="spacingAndGlyphs" stroke="#2a9d8f" stroke-width="0.3">9</text>
<rect x="1001.60" y="892.30" width="16.00" height="19.60" rx="3.2" ry="3.2" fill="#fff" fill-opacity="0.93" stroke="#2a9d8f" stroke-opacity="0.8" stroke-width="1.15"/>
<text x="1005.57" y="906.67" font-size="13.00" fill="#2a9d8f" font-weight="bold" font-style="normal" text-anchor="start" textLength="7.99" lengthAdjust="spacingAndGlyphs" stroke="#2a9d8f" stroke-width="0.3">8</text>
<line x1="204.9" y1="527.40" x2="208.5" y2="527.40" stroke="#000" stroke-width="1.1"/>
<text x="168.67" y="533.60" font-size="14.17" fill="#000" font-weight="normal" font-style="normal" text-anchor="start" textLength="21.44" lengthAdjust="spacingAndGlyphs">0.8</text>
<text x="1118.16" y="533.60" font-size="14.17" fill="#000" font-weight="normal" font-style="normal" text-anchor="start" textLength="21.44" lengthAdjust="spacingAndGlyphs">0.8</text>
<line x1="204.9" y1="484.92" x2="208.5" y2="484.92" stroke="#000" stroke-width="1.1"/>
<text x="168.61" y="491.12" font-size="14.17" fill="#000" font-weight="normal" font-style="normal" text-anchor="start" textLength="21.42" lengthAdjust="spacingAndGlyphs">1.0</text>
<text x="1118.10" y="491.12" font-size="14.17" fill="#000" font-weight="normal" font-style="normal" text-anchor="start" textLength="21.42" lengthAdjust="spacingAndGlyphs">1.0</text>
<line x1="204.9" y1="442.44" x2="208.5" y2="442.44" stroke="#000" stroke-width="1.1"/>
<text x="168.63" y="448.64" font-size="14.17" fill="#000" font-weight="normal" font-style="normal" text-anchor="start" textLength="21.13" lengthAdjust="spacingAndGlyphs">1.2</text>
<text x="1118.12" y="448.64" font-size="14.17" fill="#000" font-weight="normal" font-style="normal" text-anchor="start" textLength="21.13" lengthAdjust="spacingAndGlyphs">1.2</text>
<line x1="204.9" y1="399.96" x2="208.5" y2="399.96" stroke="#000" stroke-width="1.1"/>
<text x="168.61" y="406.16" font-size="14.17" fill="#000" font-weight="normal" font-style="normal" text-anchor="start" textLength="21.48" lengthAdjust="spacingAndGlyphs">1.4</text>
<text x="1118.10" y="406.16" font-size="14.17" fill="#000" font-weight="normal" font-style="normal" text-anchor="start" textLength="21.48" lengthAdjust="spacingAndGlyphs">1.4</text>
<line x1="204.9" y1="357.48" x2="208.5" y2="357.48" stroke="#000" stroke-width="1.1"/>
<text x="168.60" y="363.68" font-size="14.17" fill="#000" font-weight="normal" font-style="normal" text-anchor="start" textLength="21.58" lengthAdjust="spacingAndGlyphs">1.6</text>
<text x="1118.09" y="363.68" font-size="14.17" fill="#000" font-weight="normal" font-style="normal" text-anchor="start" textLength="21.58" lengthAdjust="spacingAndGlyphs">1.6</text>
<line x1="204.9" y1="315.00" x2="208.5" y2="315.00" stroke="#000" stroke-width="1.1"/>
<text x="168.61" y="321.20" font-size="14.17" fill="#000" font-weight="normal" font-style="normal" text-anchor="start" textLength="21.51" lengthAdjust="spacingAndGlyphs">1.8</text>
<text x="1118.10" y="321.20" font-size="14.17" fill="#000" font-weight="normal" font-style="normal" text-anchor="start" textLength="21.51" lengthAdjust="spacingAndGlyphs">1.8</text>
<line x1="204.9" y1="272.52" x2="208.5" y2="272.52" stroke="#000" stroke-width="1.1"/>
<text x="168.51" y="278.72" font-size="14.17" fill="#000" font-weight="normal" font-style="normal" text-anchor="start" textLength="21.53" lengthAdjust="spacingAndGlyphs">2.0</text>
<text x="1118.00" y="278.72" font-size="14.17" fill="#000" font-weight="normal" font-style="normal" text-anchor="start" textLength="21.53" lengthAdjust="spacingAndGlyphs">2.0</text>
<line x1="204.9" y1="230.04" x2="208.5" y2="230.04" stroke="#000" stroke-width="1.1"/>
<text x="168.52" y="236.24" font-size="14.17" fill="#000" font-weight="normal" font-style="normal" text-anchor="start" textLength="21.25" lengthAdjust="spacingAndGlyphs">2.2</text>
<text x="1118.01" y="236.24" font-size="14.17" fill="#000" font-weight="normal" font-style="normal" text-anchor="start" textLength="21.25" lengthAdjust="spacingAndGlyphs">2.2</text>
<line x1="204.9" y1="187.56" x2="208.5" y2="187.56" stroke="#000" stroke-width="1.1"/>
<text x="168.51" y="193.76" font-size="14.17" fill="#000" font-weight="normal" font-style="normal" text-anchor="start" textLength="21.59" lengthAdjust="spacingAndGlyphs">2.4</text>
<text x="1118.00" y="193.76" font-size="14.17" fill="#000" font-weight="normal" font-style="normal" text-anchor="start" textLength="21.59" lengthAdjust="spacingAndGlyphs">2.4</text>
<line x1="204.9" y1="706.65" x2="208.5" y2="706.65" stroke="#000" stroke-width="1.1"/>
<text x="171.62" y="712.85" font-size="14.17" fill="#000" font-weight="normal" font-style="normal" text-anchor="start" textLength="19.31" lengthAdjust="spacingAndGlyphs">−1</text>
<text x="1117.00" y="712.85" font-size="14.17" fill="#000" font-weight="normal" font-style="normal" text-anchor="start" textLength="19.31" lengthAdjust="spacingAndGlyphs">−1</text>
<line x1="204.9" y1="677.35" x2="208.5" y2="677.35" stroke="#000" stroke-width="1.1"/>
<text x="182.96" y="683.55" font-size="14.17" fill="#000" font-weight="normal" font-style="normal" text-anchor="start" textLength="8.04" lengthAdjust="spacingAndGlyphs">0</text>
<text x="1116.70" y="683.55" font-size="14.17" fill="#000" font-weight="normal" font-style="normal" text-anchor="start" textLength="8.04" lengthAdjust="spacingAndGlyphs">0</text>
<line x1="204.9" y1="648.05" x2="208.5" y2="648.05" stroke="#000" stroke-width="1.1"/>
<text x="182.97" y="654.25" font-size="14.17" fill="#000" font-weight="normal" font-style="normal" text-anchor="start" textLength="7.81" lengthAdjust="spacingAndGlyphs">1</text>
<text x="1116.70" y="654.25" font-size="14.17" fill="#000" font-weight="normal" font-style="normal" text-anchor="start" textLength="7.81" lengthAdjust="spacingAndGlyphs">1</text>
<line x1="204.9" y1="618.75" x2="208.5" y2="618.75" stroke="#000" stroke-width="1.1"/>
<text x="182.83" y="624.95" font-size="14.17" fill="#000" font-weight="normal" font-style="normal" text-anchor="start" textLength="7.89" lengthAdjust="spacingAndGlyphs">2</text>
<text x="1116.56" y="624.95" font-size="14.17" fill="#000" font-weight="normal" font-style="normal" text-anchor="start" textLength="7.89" lengthAdjust="spacingAndGlyphs">2</text>
<line x1="204.9" y1="589.45" x2="208.5" y2="589.45" stroke="#000" stroke-width="1.1"/>
<text x="183.11" y="595.65" font-size="14.17" fill="#000" font-weight="normal" font-style="normal" text-anchor="start" textLength="7.81" lengthAdjust="spacingAndGlyphs">3</text>
<text x="1116.85" y="595.65" font-size="14.17" fill="#000" font-weight="normal" font-style="normal" text-anchor="start" textLength="7.81" lengthAdjust="spacingAndGlyphs">3</text>
<line x1="204.9" y1="864.40" x2="208.5" y2="864.40" stroke="#000" stroke-width="1.1"/>
<text x="174.04" y="870.60" font-size="14.17" fill="#000" font-weight="normal" font-style="normal" text-anchor="start" textLength="17.00" lengthAdjust="spacingAndGlyphs">10</text>
<text x="1116.61" y="870.60" font-size="14.17" fill="#000" font-weight="normal" font-style="normal" text-anchor="start" textLength="17.00" lengthAdjust="spacingAndGlyphs">10</text>
<line x1="204.9" y1="808.40" x2="208.5" y2="808.40" stroke="#000" stroke-width="1.1"/>
<text x="174.05" y="814.60" font-size="14.17" fill="#000" font-weight="normal" font-style="normal" text-anchor="start" textLength="16.77" lengthAdjust="spacingAndGlyphs">15</text>
<text x="1116.63" y="814.60" font-size="14.17" fill="#000" font-weight="normal" font-style="normal" text-anchor="start" textLength="16.77" lengthAdjust="spacingAndGlyphs">15</text>
<line x1="204.9" y1="752.40" x2="208.5" y2="752.40" stroke="#000" stroke-width="1.1"/>
<text x="173.93" y="758.60" font-size="14.17" fill="#000" font-weight="normal" font-style="normal" text-anchor="start" textLength="17.11" lengthAdjust="spacingAndGlyphs">20</text>
<text x="1116.50" y="758.60" font-size="14.17" fill="#000" font-weight="normal" font-style="normal" text-anchor="start" textLength="17.11" lengthAdjust="spacingAndGlyphs">20</text>
<line x1="248.4" y1="908.5" x2="248.4" y2="912.3" stroke="#000" stroke-width="1.1"/>
<text x="228.62" y="940.90" font-size="14.17" fill="#000" font-weight="normal" font-style="normal" text-anchor="start" textLength="39.48" lengthAdjust="spacingAndGlyphs">11:00</text>
<line x1="654.45" y1="908.5" x2="654.45" y2="912.3" stroke="#000" stroke-width="1.1"/>
<text x="634.71" y="940.90" font-size="14.17" fill="#000" font-weight="normal" font-style="normal" text-anchor="start" textLength="39.41" lengthAdjust="spacingAndGlyphs">14:00</text>
<line x1="1060.5" y1="908.5" x2="1060.5" y2="912.3" stroke="#000" stroke-width="1.1"/>
<text x="1040.76" y="940.90" font-size="14.17" fill="#000" font-weight="normal" font-style="normal" text-anchor="start" textLength="39.41" lengthAdjust="spacingAndGlyphs">17:00</text>
<text x="604.87" y="970.80" font-size="17.00" fill="#000" font-weight="normal" font-style="normal" text-anchor="start" textLength="41.14" lengthAdjust="spacingAndGlyphs">Time</text>
<text x="651.71" y="970.80" font-size="17.00" fill="#000" font-weight="normal" font-style="normal" text-anchor="start" textLength="51.23" lengthAdjust="spacingAndGlyphs">(local)</text>
<text x="74.77" y="983.80" font-size="10.20" fill="#222" font-weight="normal" font-style="italic" text-anchor="start" textLength="40.55" lengthAdjust="spacingAndGlyphs">Sunrise:</text>
<text x="118.82" y="983.80" font-size="10.20" fill="#222" font-weight="normal" font-style="italic" text-anchor="start" textLength="28.27" lengthAdjust="spacingAndGlyphs">05:35</text>
<text x="151.13" y="983.80" font-size="10.20" fill="#222" font-weight="normal" font-style="italic" text-anchor="start" textLength="2.45" lengthAdjust="spacingAndGlyphs">|</text>
<text x="157.15" y="983.80" font-size="10.20" fill="#222" font-weight="normal" font-style="italic" text-anchor="start" textLength="37.53" lengthAdjust="spacingAndGlyphs">Sunset:</text>
<text x="198.40" y="983.80" font-size="10.20" fill="#222" font-weight="normal" font-style="italic" text-anchor="start" textLength="28.27" lengthAdjust="spacingAndGlyphs">19:50</text>
<text x="74.92" y="1002.70" font-size="9.00" fill="#222" font-weight="normal" font-style="italic" text-anchor="start" textLength="42.30" lengthAdjust="spacingAndGlyphs">Generated</text>
<text x="120.08" y="1002.70" font-size="9.00" fill="#222" font-weight="normal" font-style="italic" text-anchor="start" textLength="46.04" lengthAdjust="spacingAndGlyphs">2025-12-17</text>
<text x="169.16" y="1002.70" font-size="9.00" fill="#222" font-weight="normal" font-style="italic" text-anchor="start" textLength="22.49" lengthAdjust="spacingAndGlyphs">19:13</text>
</svg></body></html>
